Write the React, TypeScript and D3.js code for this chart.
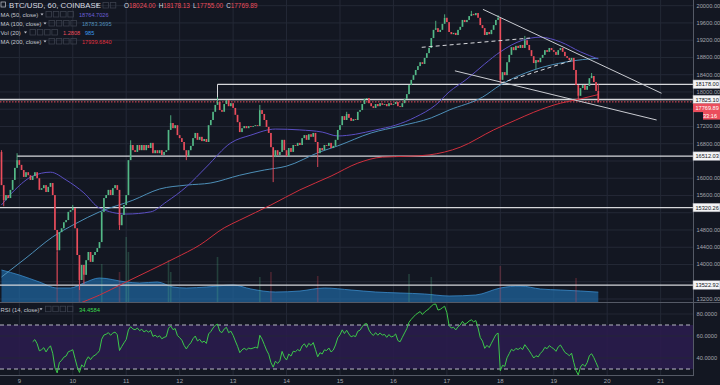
import React from "react";
import * as d3 from "d3";

// ---------- data ----------
const dayLabels = ["9", "10", "11", "12", "13", "14", "15", "16", "17", "18", "19", "20", "21"];
const firstDayIndex = 8; // candle index of day "9" 00:00 (hourly candles)

const firstOpen = 16610;
const closes = [
  15840, 15490, 15610, 15540, 15730, 15960, 16240, 16420, 16310, 16190,
  16030, 16140, 16070, 15960, 16050, 16140, 16000, 15730, 15770, 15840,
  15680, 15800, 15890, 15610, 14800, 14330, 14750, 14840, 14980, 15030,
  15220, 15260, 15310, 14840, 14220, 13640, 13990, 13760, 14100, 14290,
  14060, 14220, 14290, 14380, 14520, 15220, 15540, 15610, 15730, 15610,
  15770, 15840, 15730, 14910, 15150, 15380, 15610, 16420, 16770, 16650,
  16610, 16770, 16650, 16770, 16650, 16770, 16700, 16820, 16580, 16650,
  16580, 16650, 16540, 16610, 16650, 17120, 17280, 17160, 17230, 17000,
  16930, 16840, 16650, 16510, 16650, 16750, 16930, 17050, 16890, 16960,
  16860, 16910, 16840, 17230, 17350, 17540, 17700, 17770, 17580, 17540,
  17720, 17810, 17670, 17740, 17630, 17470, 17300, 17070, 17160, 17210,
  17160, 17210, 17190, 17210, 17230, 17210, 17580, 17490, 17350, 17190,
  17050, 16720, 16490, 16650, 16540, 16610, 16890, 16650, 16510, 16700,
  16610, 16770, 16750, 16820, 16770, 16930, 17000, 16890, 17020, 16960,
  17050, 16840, 16580, 16700, 16650, 16770, 16750, 16820, 16700, 16750,
  16890, 17120, 17230, 17440, 17350, 17490, 17400, 17330, 17370, 17350,
  17540, 17580, 17720, 17840, 17860, 17740, 17670, 17630, 17720, 17670,
  17740, 17700, 17720, 17670, 17740, 17700, 17720, 17770, 17670, 17650,
  17740, 17840, 17950, 18160, 18280, 18390, 18510, 18600, 18690, 18650,
  18790, 18900, 19020, 19250, 19440, 19480, 19390, 19440, 19580, 19720,
  19620, 19390, 19340, 19370, 19320, 19440, 19510, 19670, 19620, 19670,
  19760, 19810, 19780, 19830, 19720, 19550, 19480, 19320, 19390, 19340,
  19440, 19550, 19670, 19720, 18280, 18460, 18390, 18690, 18860, 19040,
  18970, 19070, 19020, 19090, 19020, 19200, 19090, 18970, 18830, 18670,
  18740, 18690, 18790, 18860, 18970, 18930, 19020, 18970, 18930, 18860,
  18970, 19020, 18930, 18830, 18790, 18740, 18790, 18510, 18160, 17910,
  18090, 18160, 18050, 18140, 18320, 18370, 18230, 18024, 17769.89,
];

// [candle index, high, low] for the visible wicks (0 = no wick on that side)
const wicks = [
  [0, 16650, 0], [1, 0, 15350], [7, 16580, 0], [25, 0, 13520], [32, 15380, 0],
  [35, 0, 13410], [37, 0, 13550], [53, 0, 14800], [58, 16880, 0], [76, 17460, 0],
  [83, 0, 16420], [97, 17880, 0], [116, 17700, 0], [122, 0, 15910], [142, 0, 16260],
  [155, 17540, 0], [195, 19650, 0], [199, 19800, 0], [211, 19880, 0], [223, 19780, 0],
  [224, 0, 18200], [235, 19300, 0], [240, 0, 18530], [259, 0, 17810], [265, 18440, 0],
  [268, 18178.13, 17755],
];

const ma50 = [
  [0, 15380], [6, 15730], [14, 16050], [22, 16140], [29, 15960], [37, 15660], [44, 15310],
  [56, 15170], [67, 15220], [74, 15450], [83, 15800], [92, 16260], [103, 16820], [112, 17000],
  [123, 17140], [134, 17120], [144, 17070], [151, 16980], [159, 17020], [168, 17120],
  [177, 17230], [186, 17420], [195, 17700], [201, 18000], [209, 18300], [217, 18650],
  [224, 18930], [234, 19200], [242, 19270], [251, 19160], [260, 18930], [268, 18764.70],
];
const ma100 = [
  [0, 13710], [11, 14150], [23, 14640], [33, 14940], [44, 15220], [59, 15490], [71, 15750],
  [83, 15840], [94, 15890], [107, 16070], [118, 16190], [128, 16280], [143, 16610],
  [151, 16750], [166, 17050], [179, 17210], [193, 17400], [201, 17580], [216, 17880],
  [224, 18160], [239, 18510], [254, 18700], [268, 18783.37],
];
const ma200 = [
  [33, 13060], [44, 13290], [55, 13570], [67, 13870], [78, 14150], [89, 14450], [100, 14850],
  [107, 15030], [121, 15380], [134, 15730], [148, 16050], [160, 16350], [171, 16490],
  [183, 16510], [192, 16540], [206, 16720], [221, 17120], [231, 17350], [239, 17530],
  [251, 17740], [260, 17840], [268, 17939.68],
];

const volMa = [
  [0, 3200], [8, 2700], [17, 2000], [25, 1400], [31, 1400], [37, 1900], [44, 2400], [56, 2000],
  [62, 1900], [70, 2000], [77, 1500], [83, 1400], [92, 1500], [104, 1700], [112, 1300],
  [123, 1000], [134, 1100], [145, 1400], [157, 1200], [168, 1000], [179, 900], [190, 800],
  [201, 600], [213, 700], [224, 1400], [233, 1600], [242, 1300], [251, 1200], [260, 1100],
  [268, 985],
];
const volBars = [
  [25, 5000], [35, 3500], [45, 3800], [53, 3000], [56, 6500], [57, 5000], [75, 4200],
  [76, 3000], [97, 4500], [116, 2500], [121, 3000], [142, 2600], [183, 2800], [193, 2500],
  [224, 3600], [258, 2400],
];

const priceTicks = d3.range(13200, 20001, 400);
const rsiTicks = [80, 60, 40];
const rsiBands = [70, 30];

// horizontal levels: price, first candle index (null = from left edge)
const levelPrices = [18178.0, 17825.1, 16512.03, 15320.26, 13522.92];
const levelStarts = [97, null, 7, null, null];

// trend lines in (candle index, price)
const trendSolid = [
  [[216.2, 19915], [296.4, 17970]],
  [[203.6, 18490], [294.2, 17350]],
];
const trendDashed = [
  [[188.7, 19035], [237.3, 19250]],
  [[224.2, 18207], [256.8, 18741]],
];

const lastPrice = 17769.89;
const countdown = "33:16";
const legendOHLC = [["O", "18024.00"], ["H", "18178.13"], ["L", "17755.00"], ["C", "17769.89"]];

// ---------- styling ----------
const BG = "#131722";
const GRID = "#242936";
const UP = "#53b987";
const DOWN = "#eb4d5c";
const TXT = "#c3c6cf";
const AXT = "#a3a6af";
const FONT = "'Liberation Sans', Arial, sans-serif";
const PANE_R = 693;
const MAIN_B = 302;
const RSI_T = 303;
const RSI_B = 375;

function computeRsi(values: number[], period: number) {
  const out: [number, number][] = [];
  let ag = 0;
  let al = 0;
  for (let i = 1; i < values.length; i++) {
    const d = values[i] - values[i - 1];
    const g = Math.max(d, 0);
    const l = Math.max(-d, 0);
    if (i <= period) {
      ag += g / period;
      al += l / period;
      if (i === period) out.push([i, al === 0 ? 100 : 100 - 100 / (1 + ag / al)]);
    } else {
      ag = (ag * (period - 1) + g) / period;
      al = (al * (period - 1) + l) / period;
      out.push([i, al === 0 ? 100 : 100 - 100 / (1 + ag / al)]);
    }
  }
  return out;
}

function Icons({ x0, y0, n }: { x0: number; y0: number; n: number }) {
  return (
    <g>
      {d3.range(n).map((i) => (
        <rect key={i} x={x0 + i * 7.3} y={y0} width={5.5} height={5.5} fill="none" stroke="#3b404d" strokeWidth={0.8} />
      ))}
    </g>
  );
}

function Caret({ x, y }: { x: number; y: number }) {
  return <path d={`M${x},${y} l3,0 l-1.5,2 z`} fill={TXT} />;
}

export default function App() {
  const n = closes.length;
  const x = d3.scaleLinear().domain([0, n - 1]).range([1.5, 598.3]);
  const y = d3.scaleLinear().domain([13200, 20000]).range([299, 5.7]);
  const yR = d3.scaleLinear().domain([30, 70]).range([369, 325]);
  const yV = d3.scaleLinear().domain([0, 1000]).range([MAIN_B, 292]);

  const opens = closes.map((c, i) => (i === 0 ? firstOpen : closes[i - 1]));
  const wickMap = new Map<number, number[]>();
  wicks.forEach((w) => wickMap.set(w[0], [w[1], w[2]]));

  const lineGen = d3
    .line<number[]>()
    .x((d) => x(d[0]))
    .y((d) => y(d[1]))
    .curve(d3.curveMonotoneX);
  const volArea = d3
    .area<number[]>()
    .x((d) => x(d[0]))
    .y0(MAIN_B)
    .y1((d) => yV(d[1]))
    .curve(d3.curveMonotoneX);
  const volTop = d3
    .line<number[]>()
    .x((d) => x(d[0]))
    .y((d) => yV(d[1]))
    .curve(d3.curveMonotoneX);

  const rsi = computeRsi(closes, 14);
  const rsiLine = d3
    .line<[number, number]>()
    .x((d) => x(d[0]))
    .y((d) => yR(d[1]));

  const dayX = (i: number) => x(firstDayIndex + i * 24);
  const bw = 1.7;

  const yLast = y(lastPrice);
  const yLvl1 = y(levelPrices[1]);
  const redBoxY = Math.max(yLast, yLvl1 + 8.3);

  const boxes = levelPrices.map((p) => ({ yy: y(p), t: p.toFixed(2) }));
  const boxYs = boxes.map((b) => b.yy).concat([redBoxY, redBoxY + 7.8]);
  const visibleTicks = priceTicks.filter((p) => boxYs.every((by) => Math.abs(y(p) - by) > 7.5));

  return (
    <div style={{ position: "fixed", left: 0, top: 0, width: 720, height: 385, background: BG }}>
      <svg width={720} height={385} style={{ display: "block", fontFamily: FONT }}>
        <defs>
          <clipPath id="mainClip">
            <rect x={0} y={0} width={PANE_R} height={MAIN_B} />
          </clipPath>
          <clipPath id="rsiClip">
            <rect x={0} y={RSI_T} width={PANE_R} height={RSI_B - RSI_T} />
          </clipPath>
        </defs>
        <rect x={0} y={0} width={720} height={385} fill={BG} />

        {/* grid */}
        {priceTicks.map((p) => (
          <line key={"g" + p} x1={0} x2={PANE_R} y1={y(p)} y2={y(p)} stroke={GRID} strokeWidth={1} />
        ))}
        {dayLabels.map((d, i) => (
          <line key={"v" + d} x1={dayX(i)} x2={dayX(i)} y1={0} y2={RSI_B} stroke={GRID} strokeWidth={1} />
        ))}

        {/* main pane */}
        <g clipPath="url(#mainClip)">
          <path d={volArea(volMa) || ""} fill="#2068a3" fillOpacity={0.7} />
          <path d={volTop(volMa) || ""} fill="none" stroke="#3a8ccc" strokeWidth={0.8} />
          {volBars.map((b) => {
            const k = b[0];
            const up = closes[k] >= opens[k];
            return (
              <rect key={"vb" + k} x={x(k) - 0.8} width={1.6} y={yV(b[1])} height={MAIN_B - yV(b[1])}
                fill={up ? UP : DOWN} fillOpacity={0.25} />
            );
          })}

          {/* horizontal levels */}
          {levelPrices.map((p, i) => {
            const s = levelStarts[i];
            const x1 = s === null ? 0 : x(s);
            return (
              <line key={"lv" + p} x1={x1} x2={PANE_R} y1={y(p)} y2={y(p)} stroke="#d6d7db" strokeWidth={1.3} />
            );
          })}
          <line x1={x(levelStarts[0] as number)} x2={x(levelStarts[0] as number)} y1={y(levelPrices[0])} y2={y(levelPrices[1])}
            stroke="#d6d7db" strokeWidth={1} />
          <line x1={0} x2={PANE_R} y1={yLast} y2={yLast} stroke={DOWN} strokeWidth={1} strokeDasharray="1.5,1.5" />

          {/* moving averages */}
          <path d={lineGen(ma200) || ""} fill="none" stroke="#cf2f3d" strokeWidth={1} />
          <path d={lineGen(ma100) || ""} fill="none" stroke="#4d8fb8" strokeWidth={1} />
          <path d={lineGen(ma50) || ""} fill="none" stroke="#5b4fc4" strokeWidth={1} />

          {/* candles */}
          {closes.map((c, i) => {
            const o = opens[i];
            const up = c >= o;
            const col = up ? UP : DOWN;
            const top = y(Math.max(o, c));
            const bot = y(Math.min(o, c));
            const w = wickMap.get(i);
            const cx = x(i);
            return (
              <g key={"c" + i}>
                {w && w[0] > 0 && <line x1={cx} x2={cx} y1={y(w[0])} y2={top} stroke={col} strokeWidth={0.9} />}
                {w && w[1] > 0 && <line x1={cx} x2={cx} y1={bot} y2={y(w[1])} stroke={col} strokeWidth={0.9} />}
                <rect x={cx - bw / 2} width={bw} y={top} height={Math.max(bot - top, 0.8)} fill={col} />
              </g>
            );
          })}

          {/* trend lines */}
          {trendSolid.map((t, i) => (
            <line key={"ts" + i} x1={x(t[0][0])} y1={y(t[0][1])} x2={x(t[1][0])} y2={y(t[1][1])}
              stroke="#c9cbd1" strokeWidth={1} />
          ))}
          {trendDashed.map((t, i) => (
            <line key={"td" + i} x1={x(t[0][0])} y1={y(t[0][1])} x2={x(t[1][0])} y2={y(t[1][1])}
              stroke="#d9dade" strokeWidth={1} strokeDasharray="4,3" />
          ))}
        </g>

        {/* RSI pane */}
        <rect x={0} y={yR(70)} width={PANE_R} height={yR(30) - yR(70)} fill="#2a1c4c" fillOpacity={0.9} />
        {rsiTicks.map((t) => (
          <line key={"rg" + t} x1={0} x2={PANE_R} y1={yR(t)} y2={yR(t)} stroke={GRID} strokeWidth={1} strokeOpacity={0.9} />
        ))}
        {rsiBands.map((t) => (
          <line key={"rb" + t} x1={0} x2={PANE_R} y1={yR(t)} y2={yR(t)} stroke="#b9b9c4" strokeWidth={1} strokeDasharray="4,3" />
        ))}
        <g clipPath="url(#rsiClip)">
          <path d={rsiLine(rsi) || ""} fill="none" stroke="#3cc94a" strokeWidth={1} />
        </g>

        {/* pane separators */}
        <line x1={0} x2={720} y1={MAIN_B + 0.5} y2={MAIN_B + 0.5} stroke="#555a66" strokeWidth={1} />
        <line x1={0} x2={PANE_R} y1={RSI_B + 0.5} y2={RSI_B + 0.5} stroke="#555a66" strokeWidth={1} />
        <line x1={PANE_R + 0.5} x2={PANE_R + 0.5} y1={0} y2={RSI_B + 1} stroke="#555a66" strokeWidth={1} />

        {/* price axis */}
        {visibleTicks.map((p) => (
          <text key={"pt" + p} x={696.5} y={y(p) + 2} fontSize={5.7} fill={AXT}>
            {p.toFixed(2)}
          </text>
        ))}
        {boxes.map((b) => (
          <g key={"bx" + b.t}>
            <rect x={PANE_R} y={b.yy - 4.3} width={27} height={8.6} fill="#f4f4f6" stroke="#9a9ca3" strokeWidth={0.5} />
            <text x={695.5} y={b.yy + 2} fontSize={5.6} fill="#131722">{b.t}</text>
          </g>
        ))}
        <rect x={PANE_R} y={redBoxY - 4.3} width={27} height={8.6} fill={DOWN} />
        <text x={695.5} y={redBoxY + 2} fontSize={5.6} fill="#ffffff">{lastPrice.toFixed(2)}</text>
        <rect x={703} y={redBoxY + 3.8} width={17} height={8} fill={DOWN} />
        <text x={717} y={redBoxY + 9.8} fontSize={5.6} fill="#ffffff" textAnchor="end">{countdown}</text>

        {rsiTicks.map((t) => (
          <text key={"rt" + t} x={696.5} y={yR(t) + 2} fontSize={5.7} fill={AXT}>
            {t.toFixed(4)}
          </text>
        ))}

        {/* time axis */}
        {dayLabels.map((d, i) => (
          <text key={"dl" + d} x={dayX(i)} y={383} fontSize={6} fill={AXT} textAnchor="middle">
            {d}
          </text>
        ))}

        {/* legend */}
        <rect x={1} y={2} width={4.5} height={5} fill="none" stroke={TXT} strokeWidth={0.7} />
        <text x={9} y={8} fontSize={7.8} fill="#d8dae0">BTC/USD, 60, COINBASE</text>
        <Caret x={96} y={4.5} />
        <Icons x0={103} y0={2.5} n={2} />
        <text x={121} y={8} fontSize={6.4}>
          {legendOHLC.map((o) => (
            <tspan key={o[0]}>
              <tspan fill="#d8dae0" dx={3}>{o[0]}</tspan>
              <tspan fill={DOWN}>{o[1]}</tspan>
            </tspan>
          ))}
        </text>

        <text x={0.5} y={16.8} fontSize={5.9} fill={TXT}>MA (50, close)</text>
        <Caret x={40.5} y={13.5} />
        <Icons x0={46} y0={11.5} n={4} />
        <text x={79} y={16.8} fontSize={5.6} fill="#6a5fd6">18764.7026</text>

        <text x={0.5} y={25.8} fontSize={5.9} fill={TXT}>MA (100, close)</text>
        <Caret x={43.5} y={22.5} />
        <Icons x0={49} y0={20.5} n={4} />
        <text x={82} y={25.8} fontSize={5.6} fill="#5290bb">18783.3695</text>

        <text x={0.5} y={34.8} fontSize={5.9} fill={TXT}>Vol (20)</text>
        <Caret x={24} y={31.5} />
        <Icons x0={30} y0={29.5} n={4} />
        <text x={63} y={34.8} fontSize={5.6} fill={DOWN}>1.2808</text>
        <text x={85} y={34.8} fontSize={5.6} fill="#3c9bf0">985</text>

        <text x={0.5} y={43.8} fontSize={5.9} fill={TXT}>MA (200, close)</text>
        <Caret x={43.5} y={40.5} />
        <Icons x0={49} y0={38.5} n={4} />
        <text x={82} y={43.8} fontSize={5.6} fill="#e0303e">17939.6840</text>

        <text x={0.5} y={311.5} fontSize={5.9} fill={TXT}>RSI (14, close)</text>
        <Caret x={39.5} y={308.2} />
        <Icons x0={45.5} y0={306.2} n={4} />
        <text x={79} y={311.5} fontSize={5.8} fill="#3ddc50">34.4584</text>
      </svg>
    </div>
  );
}
